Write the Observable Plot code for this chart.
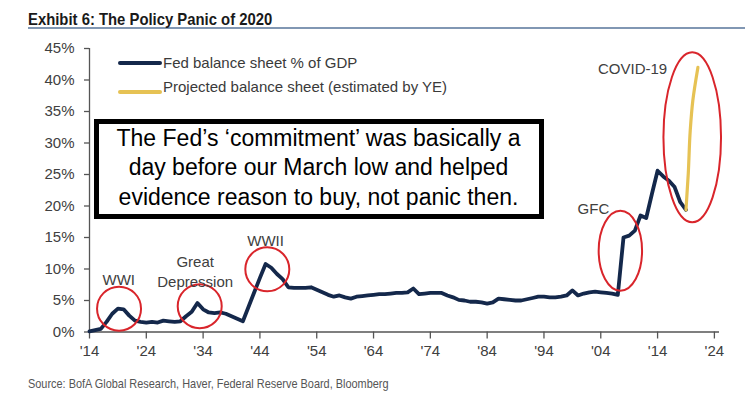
<!DOCTYPE html>
<html>
<head>
<meta charset="utf-8">
<script src="https://cdn.jsdelivr.net/npm/d3@7"></script>
<script src="https://cdn.jsdelivr.net/npm/@observablehq/plot@0.6"></script>
<style>
  html, body { margin: 0; padding: 0; background: #fff; }
  #wrap { position: relative; width: 749px; height: 400px; overflow: hidden; font-family: "Liberation Sans", Arial, sans-serif; }
  #title { position: absolute; left: 28px; top: 0; width: 717px; height: 27px; border-bottom: 2px solid #8197b3; }
  #title span { position: absolute; left: 0; top: 11px; font: bold 16.5px/16.5px "Liberation Sans", Arial, sans-serif; color: #1a1a1a; white-space: nowrap; transform: scaleX(0.9); transform-origin: 0 0; }
  #chart { position: absolute; left: 0; top: 30px; }
  #source { position: absolute; left: 28px; top: 377px; font: 13px/13px "Liberation Sans", Arial, sans-serif; color: #555; white-space: nowrap; transform: scaleX(0.84); transform-origin: 0 0; }
  .lg { position: absolute; font-size: 15px; line-height: 18px; color: #3a3a3a; white-space: nowrap; }
  .sw { position: absolute; width: 44px; height: 4px; border-radius: 2px; }
  #box { position: absolute; left: 93.5px; top: 118.5px; width: 450px; height: 100px; box-sizing: border-box; border: 5px solid #000; background: #fff; text-align: center; font-size: 23px; line-height: 29.5px; color: #000; }
</style>
</head>
<body>
<div id="wrap">
  <div id="title"><span>Exhibit 6: The Policy Panic of 2020</span></div>
  <div id="chart"></div>
  <div class="sw" style="left:118px;top:60.5px;background:#14284b"></div>
  <div class="lg" style="left:163px;top:54.3px">Fed balance sheet % of GDP</div>
  <div class="sw" style="left:118px;top:89.7px;background:#e6c254"></div>
  <div class="lg" style="left:163px;top:78.4px">Projected balance sheet (estimated by YE)</div>
  <div id="box">The Fed’s ‘commitment’ was basically a<br>day before our March low and helped<br>evidence reason to buy, not panic then.</div>
  <div id="source">Source: BofA Global Research, Haver, Federal Reserve Board, Bloomberg</div>
</div>
<script>
// Fed balance sheet % of GDP
const fedYears = [1914,1916,1917,1918,1919,1920,1921,1922,1923,1924,1925,1926,1927,1928,1929,1930,1931,1932,1933,1934,1935,1936,1937,1938,1939,1940,1941,1942,1943,1944,1945,1946,1947,1948,1949,1950,1951,1952,1953,1954,1955,1956,1957,1958,1959,1960,1961,1962,1963,1964,1965,1966,1967,1968,1969,1970,1971,1972,1973,1974,1975,1976,1977,1978,1979,1980,1981,1982,1983,1984,1985,1986,1987,1988,1989,1990,1991,1992,1993,1994,1995,1996,1997,1998,1999,2000,2001,2002,2003,2004,2005,2006,2007,2008,2009,2010,2011,2012,2013,2014,2015,2016,2017,2018,2019];
const fedValues = [0.1,0.5,1.6,2.9,3.7,3.6,2.6,1.8,1.6,1.5,1.6,1.5,1.8,1.7,1.6,1.7,2.5,3.2,4.6,3.6,3.1,3.0,3.1,2.9,2.5,2.1,1.7,4.0,6.3,8.6,10.8,10.2,9.2,8.4,7.1,7.0,7.0,7.0,7.1,6.7,6.3,5.9,5.6,5.8,5.5,5.3,5.6,5.7,5.8,5.9,6.0,6.0,6.1,6.2,6.2,6.3,6.9,6.0,6.1,6.2,6.2,6.2,5.8,5.5,5.1,5.0,4.8,4.8,4.7,4.5,4.7,5.3,5.2,5.1,5.0,5.0,5.2,5.4,5.6,5.6,5.5,5.5,5.6,5.8,6.6,5.8,6.1,6.3,6.4,6.3,6.2,6.1,5.9,15.0,15.3,16.1,18.5,18.1,21.9,25.6,24.7,24.0,23.0,20.6,19.4];
// Projected balance sheet (estimated by YE)
const projYears = [2019,2019.4,2019.75,2020.2,2021.1];
const projValues = [19.4,25.1,32.0,36.7,42.0];
// Axis ticks
const xTicks = [1914,1924,1934,1944,1954,1964,1974,1984,1994,2004,2014,2024];
const yTicks = [0,5,10,15,20,25,30,35,40,45];
// Annotation labels and circled episodes
const labelText = ["WWI","Great\nDepression","WWII","GFC","COVID-19"];
const labelYears = [1919.15,1932.6,1945.0,2002.7,2009.6];
const labelValues = [8.4,9.7,14.65,19.8,42.0];
const circleYears = [1919.2,1933.4,1945.3];
const circleValues = [3.7,4.1,9.95];
const ovalYears = [2007.45,2020.1];
const ovalValues = [12.9,30.9];

const fed = fedYears.map((x,i)=>({x, y: fedValues[i]}));
const proj = projYears.map((x,i)=>({x, y: projValues[i]}));
const labels = labelText.map((t,i)=>({t, x: labelYears[i], y: labelValues[i]}));
const circles = circleYears.map((x,i)=>({x, y: circleValues[i]}));
const ovals = ovalYears.map((x,i)=>({x, y: ovalValues[i]}));

function ellipseSymbol(rx, ry) {
  const k = 0.5523;
  return {draw(c) {
    c.moveTo(rx, 0);
    c.bezierCurveTo(rx, ry*k, rx*k, ry, 0, ry);
    c.bezierCurveTo(-rx*k, ry, -rx, ry*k, -rx, 0);
    c.bezierCurveTo(-rx, -ry*k, -rx*k, -ry, 0, -ry);
    c.bezierCurveTo(rx*k, -ry, rx, -ry*k, rx, 0);
    c.closePath();
  }};
}

const plot = Plot.plot({
  width: 749, height: 345,
  marginLeft: 89, marginRight: 30, marginTop: 18, marginBottom: 43.5,
  style: {fontFamily: "'Liberation Sans', Arial, sans-serif", fontSize: "15px", color: "#404040", background: "transparent", overflow: "visible"},
  x: {domain: [1914, 2024.9]},
  y: {domain: [0, 45]},
  marks: [
    Plot.axisX({ticks: xTicks, tickFormat: d => "'" + String(d).slice(2), tickSize: 7, tickPadding: 6, label: null, stroke: "#555", strokeWidth: 1.3, fontSize: 15}),
    Plot.axisY({ticks: yTicks, tickFormat: d => d + "%", tickSize: 5, tickPadding: 10, label: null, stroke: "#555", strokeWidth: 1.3, fontSize: 15}),
    Plot.ruleY([0], {stroke: "#555", strokeWidth: 1.3}),
    Plot.ruleX([1914], {stroke: "#555", strokeWidth: 1.3}),
    Plot.line(fed, {x: "x", y: "y", stroke: "#14284b", strokeWidth: 3.8, strokeLinejoin: "round", strokeLinecap: "round"}),
    Plot.line(proj, {x: "x", y: "y", stroke: "#e6c254", strokeWidth: 3.2, strokeLinejoin: "round", strokeLinecap: "round", curve: "monotone-y"}),
    Plot.dot(circles, {x: "x", y: "y", r: 22, stroke: "#d9252b", strokeWidth: 2, fill: "none"}),
    Plot.dot(ovals.slice(0,1), {x: "x", y: "y", r: 10, symbol: ellipseSymbol(21.7, 40), stroke: "#d9252b", strokeWidth: 2, fill: "none"}),
    Plot.dot(ovals.slice(1), {x: "x", y: "y", r: 10, symbol: ellipseSymbol(28.8, 85), stroke: "#d9252b", strokeWidth: 2, fill: "none"}),
    Plot.text(labels, {x: "x", y: "y", text: "t", fill: "#404040", fontSize: 15, lineHeight: 1.33, textAnchor: "middle"})
  ]
});
document.getElementById("chart").appendChild(plot);
</script>
</body>
</html>
